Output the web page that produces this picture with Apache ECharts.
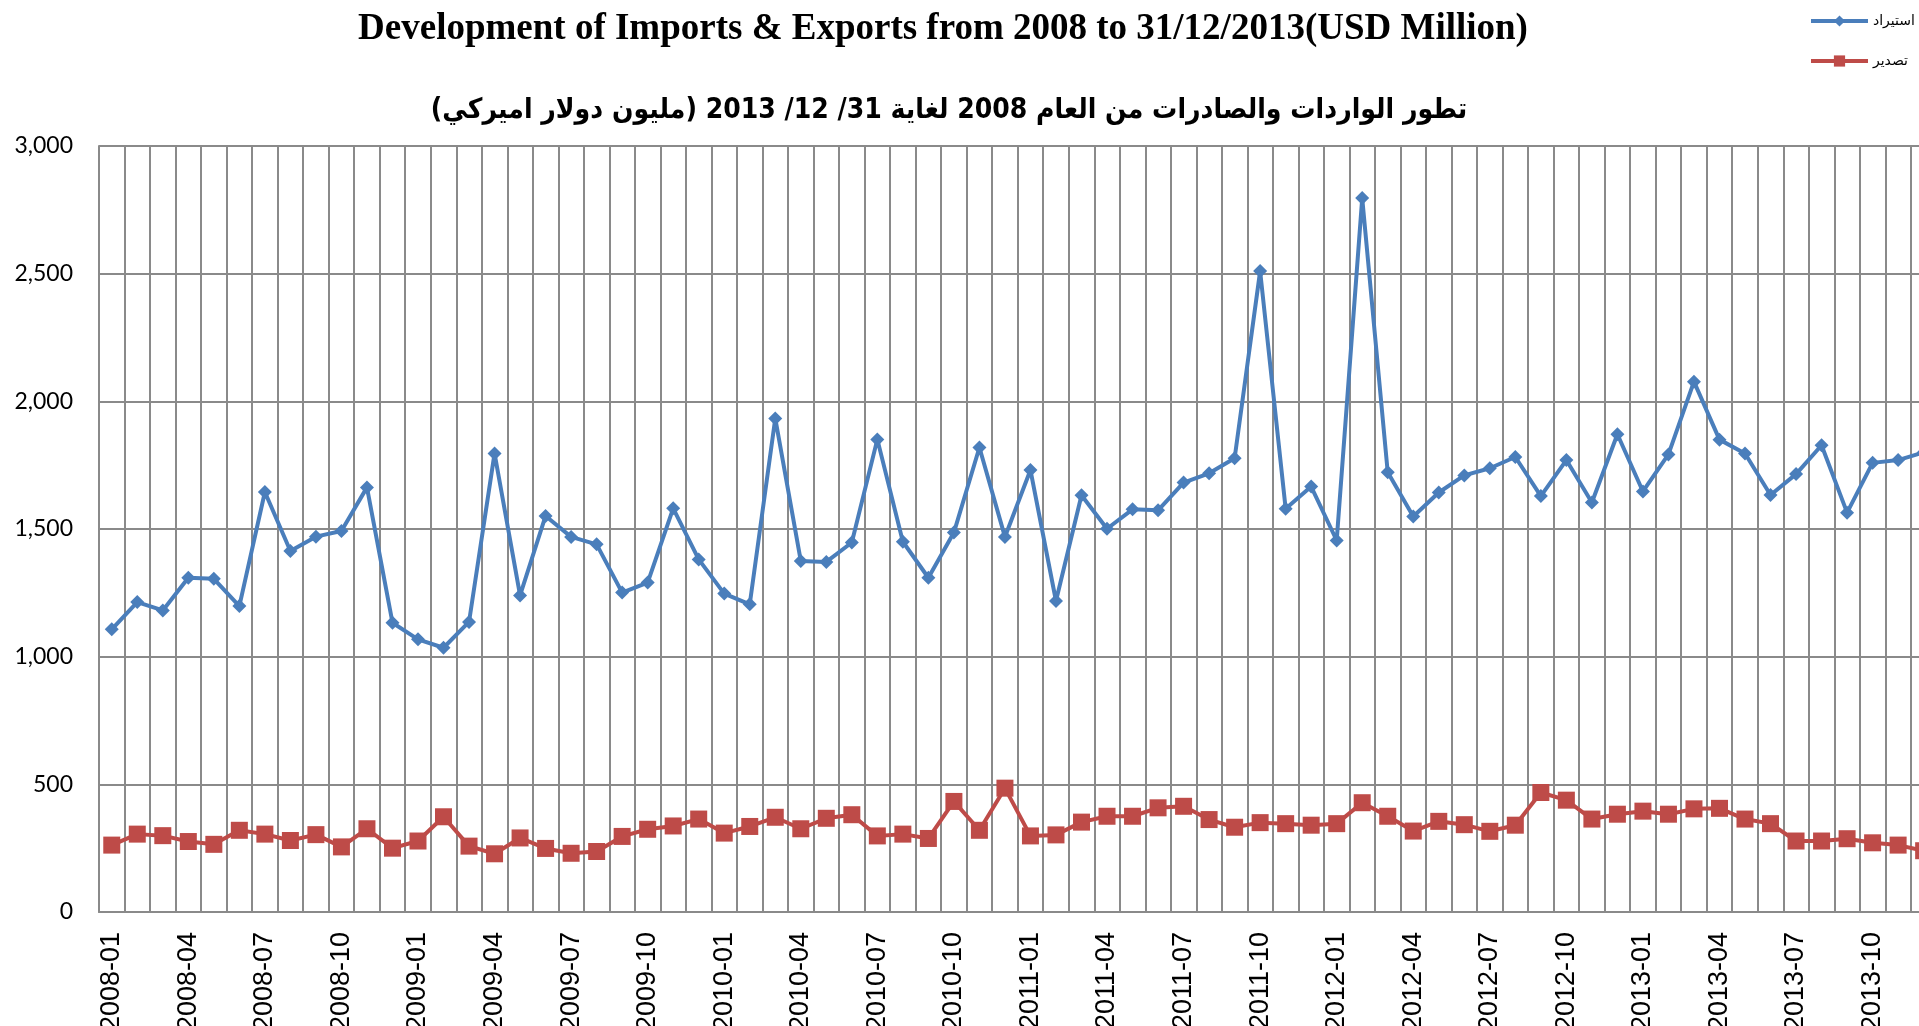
<!DOCTYPE html>
<html><head><meta charset="utf-8">
<script src="https://cdn.jsdelivr.net/npm/echarts@6/dist/echarts.min.js"></script>
<style>html,body{margin:0;padding:0;overflow:hidden;background:#fff;width:1919px;height:1026px}#c{width:1960px;height:1026px}</style>
</head><body><div id="c"></div>
<script>
const months = [
 '2008-01','2008-02','2008-03','2008-04','2008-05','2008-06','2008-07','2008-08','2008-09','2008-10','2008-11','2008-12',
 '2009-01','2009-02','2009-03','2009-04','2009-05','2009-06','2009-07','2009-08','2009-09','2009-10','2009-11','2009-12',
 '2010-01','2010-02','2010-03','2010-04','2010-05','2010-06','2010-07','2010-08','2010-09','2010-10','2010-11','2010-12',
 '2011-01','2011-02','2011-03','2011-04','2011-05','2011-06','2011-07','2011-08','2011-09','2011-10','2011-11','2011-12',
 '2012-01','2012-02','2012-03','2012-04','2012-05','2012-06','2012-07','2012-08','2012-09','2012-10','2012-11','2012-12',
 '2013-01','2013-02','2013-03','2013-04','2013-05','2013-06','2013-07','2013-08','2013-09','2013-10','2013-11','2013-12'];
const importsName = 'استيراد';
const exportsName = 'تصدير';
const imports = [
 1107,1214,1181,1309,1305,1198,1645,1414,1470,1492,1663,1133,
 1068,1035,1136,1796,1240,1551,1469,1440,1251,1290,1581,1381,
 1247,1205,1933,1375,1371,1447,1851,1450,1309,1486,1819,1469,
 1731,1218,1632,1501,1577,1573,1682,1718,1777,2510,1579,1666,
 1455,2796,1722,1549,1643,1710,1738,1782,1629,1770,1604,1871,
 1647,1792,2077,1850,1796,1633,1715,1828,1564,1759,1770,1800];
const exportsVals = [
 262,305,299,276,265,320,305,280,303,255,326,250,
 278,373,258,228,290,249,230,237,296,324,337,364,
 309,335,371,326,367,381,298,305,288,433,320,485,
 298,302,352,375,375,408,414,362,332,350,346,340,
 346,428,375,317,355,342,316,340,468,438,364,383,
 395,383,404,406,364,346,278,278,287,271,262,240];
const titleEn = 'Development of Imports & Exports from 2008 to 31/12/2013(USD Million)';
const titleAr = 'تطور الواردات والصادرات من العام 2008 لغاية 31/ 12/ 2013 (مليون دولار اميركي)';

const chart = echarts.init(document.getElementById('c'), null, {renderer: 'canvas'});
const gridColor = '#8a8a8a';
chart.setOption({
  animation: false,
  backgroundColor: '#ffffff',
  graphic: [
    {type: 'text', x: 943, y: 29, style: {text: titleEn, textAlign: 'center', textVerticalAlign: 'middle',
      font: 'bold 37px "Liberation Serif", "Times New Roman", serif', fill: '#000'}},
    {type: 'text', x: 949, y: 111, style: {text: titleAr, textAlign: 'center', textVerticalAlign: 'middle',
      font: 'bold 28px "DejaVu Sans Condensed", "DejaVu Sans", sans-serif', fill: '#000'}}
  ],
  legend: {
    orient: 'vertical', left: 1809, top: 14, padding: 0, itemWidth: 57, itemHeight: 14, itemGap: 26,
    lineStyle: {width: 4},
    textStyle: {fontFamily: '"DejaVu Sans", sans-serif', fontSize: 14, color: '#000'},
    data: [importsName, exportsName]
  },
  grid: {left: 99, right: 23.6, top: 146, bottom: 114, containLabel: false, outerBoundsMode: 'none'},
  xAxis: {
    type: 'category', data: months, boundaryGap: true,
    axisLine: {show: true, lineStyle: {color: gridColor, width: 2}},
    axisTick: {show: false},
    axisLabel: {interval: 2, rotate: 90, margin: 20, fontFamily: '"Liberation Sans", Arial, sans-serif', fontSize: 27, color: '#000'},
    splitLine: {show: true, interval: 0, lineStyle: {color: gridColor, width: 2}}
  },
  yAxis: {
    type: 'value', min: 0, max: 3000, interval: 500,
    axisLine: {show: true, lineStyle: {color: gridColor, width: 2}},
    axisTick: {show: false},
    axisLabel: {margin: 26, fontFamily: 'Lato, "Open Sans", sans-serif', fontSize: 23, color: '#000',
      formatter: v => v.toLocaleString('en-US')},
    splitLine: {show: true, lineStyle: {color: gridColor, width: 2}}
  },
  series: [
    {name: importsName, type: 'line', data: imports, symbol: 'diamond', symbolSize: 14,
     lineStyle: {color: '#4a7ebb', width: 4}, itemStyle: {color: '#4a7ebb'}},
    {name: exportsName, type: 'line', data: exportsVals, symbol: 'rect', symbolSize: 17,
     lineStyle: {color: '#be4b48', width: 4}, itemStyle: {color: '#be4b48'}}
  ]
});
</script></body></html>
